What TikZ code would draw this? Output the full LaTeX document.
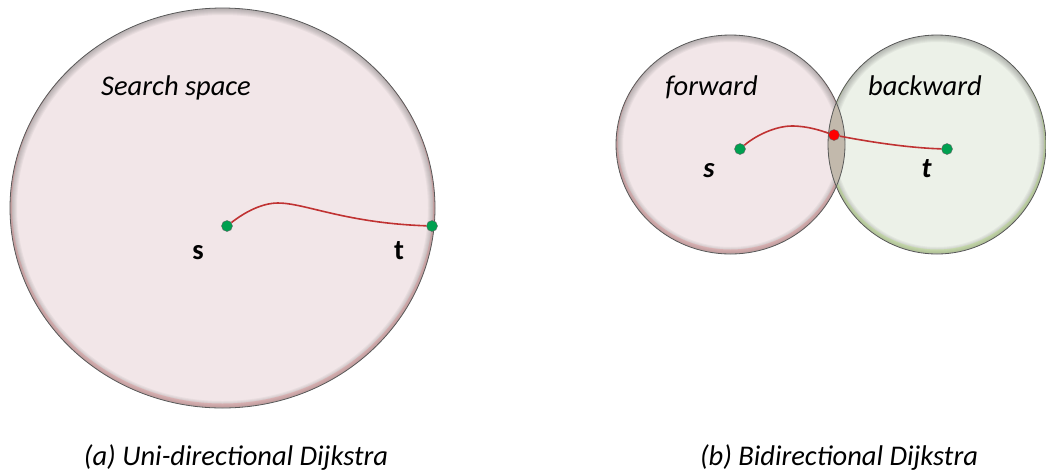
\documentclass[tikz,border=0pt]{standalone}
\usepackage{fontspec}
\setmainfont{Carlito}
\usetikzlibrary{calc}
\definecolor{pinkfill}{RGB}{242,230,232}
\definecolor{greenfill}{RGB}{236,241,232}
\definecolor{lensfill}{RGB}{194,185,172}
\definecolor{dotgreen}{RGB}{0,160,80}
\definecolor{pathred}{RGB}{192,50,50}
\newcommand{\Bubble}[6]{
  \fill[#4](#1)ellipse(#2 and #3);
  \begin{scope}
    \clip(#1)ellipse(#2 and #3);
    \foreach \w in {2,4,...,14}
      \draw[#5,line width=\w pt,opacity=0.07](#1)ellipse(#2 and #3);
    \draw[#6,line width=4pt,opacity=0.15]([yshift=2.5pt]#1)ellipse(#2 and #3);
  \end{scope}
}
\newcommand{\Rim}[3]{
  \draw[black!65,line width=0.8pt](#1)ellipse(#2 and #3);
}

\begin{document}
\begin{tikzpicture}[x=1pt,y=-1pt,
    dot/.style={circle,fill=dotgreen,draw=black!60,line width=0.4pt,inner sep=0pt,minimum size=11pt},
    meet/.style={dot,fill=red},
    path/.style={pathred,line width=1.6pt},
    lab/.style={font=\fontsize{28.5}{34}\selectfont\itshape,anchor=base,inner sep=0pt}]
  \useasboundingbox(0,0)rectangle(1046,475);
  % (a) one search space
  \Bubble{222.5,208}{212.5}{200}{pinkfill}{black!60}{red!80}
  \Rim{222.5,208}{212.5}{200}
  \node[dot](s1)at(227,226){};
  \node[dot](t1)at(432,226){};
  \coordinate(pk1)at(278,203);
  \draw[path](s1)..controls(245,212)and(262,203)..(pk1)
    ..controls(305,203)and(345,223)..(t1);
  \node[lab](space)at(176,95){Search space};
  \node[lab,font=\fontsize{28.5}{34}\selectfont\bfseries](sl1)at(198,259){s};
  \node[lab,font=\fontsize{28.5}{34}\selectfont\bfseries](tl1)at(399,259){t};
  % (b) two search spaces
  \Bubble{730.5,144.5}{114.5}{109.5}{pinkfill}{black!60}{red!80}
  \Bubble{937,144.5}{109}{109.5}{greenfill}{black!60}{green!40!yellow}
  \begin{scope}
    \clip(730.5,144.5)ellipse(114.5 and 109.5);
    \fill[lensfill](937,144.5)ellipse(109 and 109.5);
  \end{scope}
  \Rim{730.5,144.5}{114.5}{109.5}
  \Rim{937,144.5}{109}{109.5}
  \node[dot](s2)at(740,149){};
  \node[meet](m)at(834,135){};
  \node[dot](t2)at(947,149){};
  \coordinate(pk2)at(792,126);
  \draw[path](s2)..controls(755,136)and(775,126)..(pk2)
    ..controls(808,126)and(822,131)..(m);
  \draw[path](m)..controls(870,142)and(910,148)..(t2);
  \node[lab](fw)at(711.5,95){forward};
  \node[lab](bw)at(925,95){backward};
  \node[lab,font=\fontsize{28.5}{34}\selectfont\bfseries\itshape](sl2)at(709,177){s};
  \node[lab,font=\fontsize{28.5}{34}\selectfont\bfseries\itshape](tl2)at(926.5,177){t};
  % captions
  \node[lab](capa)at(236,465){(a) Uni-directional Dijkstra};
  \node[lab](capb)at(839,465){(b) Bidirectional Dijkstra};
\end{tikzpicture}
\end{document}
